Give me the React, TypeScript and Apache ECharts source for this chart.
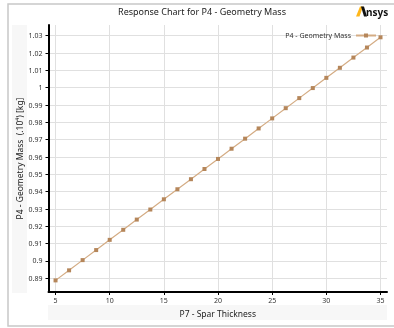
import React, { useEffect, useRef } from "react";
import * as echarts from "echarts";

const spar = [5, 6.25, 7.5, 8.75, 10, 11.25, 12.5, 13.75, 15, 16.25, 17.5, 18.75, 20, 21.25, 22.5, 23.75, 25, 26.25, 27.5, 28.75, 30, 31.25, 32.5, 33.75, 35];
const mass = [0.8888, 0.8946, 0.9005, 0.9063, 0.9122, 0.918, 0.9239, 0.9297, 0.9356, 0.9414, 0.9472, 0.9531, 0.9589, 0.9648, 0.9706, 0.9765, 0.9823, 0.9882, 0.994, 0.9998, 1.0057, 1.0115, 1.0174, 1.0232, 1.0291];
const xTicks = [5, 10, 15, 20, 25, 30, 35];
const yTicks = [0.89, 0.9, 0.91, 0.92, 0.93, 0.94, 0.95, 0.96, 0.97, 0.98, 0.99, 1, 1.01, 1.02, 1.03];

const FONT = "Noto Sans";

export default function App() {
  const ref = useRef<HTMLDivElement>(null);
  useEffect(() => {
    const chart = echarts.init(ref.current!, null, { renderer: "svg" });
    chart.setOption({
      animation: false,
      textStyle: { fontFamily: FONT },
      grid: { left: 48.5, top: 25, right: 7, bottom: 36, containLabel: false },
      graphic: [
        { type: "rect", shape: { x: 8, y: 4, width: 400, height: 322 }, style: { fill: "#fff", stroke: "#c8c8c8", lineWidth: 1.5 }, z: -10 },
        { type: "rect", shape: { x: 12, y: 25, width: 15, height: 268 }, style: { fill: "#f7f7f7" }, z: -5 },
        { type: "rect", shape: { x: 48, y: 305, width: 339, height: 15 }, style: { fill: "#f7f7f7" }, z: -5 },
        { type: "text", x: 202, y: 11, style: { text: "Response Chart for P4 - Geometry Mass", font: `9px ${FONT}`, fill: "#222", align: "center", verticalAlign: "middle" } },
        { type: "polygon", shape: { points: [[356, 16.5], [359.5, 16.5], [363, 6.5], [360, 6.5]] }, style: { fill: "#ffb71b" } },
        { type: "polygon", shape: { points: [[361, 6.5], [364, 6.5], [367, 16.5], [364, 16.5]] }, style: { fill: "#111" } },
        { type: "text", x: 366, y: 12, style: { text: "nsys", font: `bold 10px ${FONT}`, fill: "#111", align: "left", verticalAlign: "middle" } },
      ],
      legend: {
        right: 12,
        top: 27,
        itemWidth: 20,
        itemHeight: 5,
        align: "right",
        itemGap: 4,
        textStyle: { fontSize: 7, color: "#333", fontFamily: FONT },
        data: ["P4 - Geometry Mass"],
      },
      xAxis: {
        type: "value",
        min: 4.35,
        max: 35.6,
        name: "P7 - Spar Thickness",
        nameLocation: "middle",
        nameGap: 17,
        nameMoveOverlap: false,
        nameTextStyle: { fontSize: 8.5, color: "#222", fontFamily: FONT },
        axisLine: { show: true, lineStyle: { color: "#000", width: 2 } },
        axisTick: { show: true, customValues: xTicks, length: 3, lineStyle: { color: "#000" } },
        axisLabel: { customValues: xTicks, fontSize: 7, color: "#333", margin: 5 },
        splitLine: { show: true, lineStyle: { color: "#e0e0e0", width: 1 } },
      },
      yAxis: {
        type: "value",
        min: 0.8821,
        max: 1.0362,
        name: "P4 - Geometry Mass  (.10⁴) [kg]",
        nameLocation: "middle",
        nameGap: 25,
        nameMoveOverlap: false,
        nameRotate: 90,
        nameTextStyle: { fontSize: 8.5, color: "#222", fontFamily: FONT },
        axisLine: { show: true, lineStyle: { color: "#000", width: 2 } },
        axisTick: { show: true, customValues: yTicks, length: 3, lineStyle: { color: "#000" } },
        axisLabel: {
          customValues: yTicks,
          fontSize: 7,
          color: "#333",
          margin: 6,
          formatter: (v: number) => String(parseFloat(v.toFixed(2))),
        },
        splitLine: { show: true, lineStyle: { color: "#e0e0e0", width: 1 } },
      },
      series: [
        {
          name: "P4 - Geometry Mass",
          type: "line",
          data: spar.map((x, i) => [x, mass[i]]),
          symbol: "rect",
          symbolSize: 4,
          itemStyle: { color: "#b5865a" },
          lineStyle: { color: "#d4ac84", width: 1.2 },
        },
      ],
    });
    return () => chart.dispose();
  }, []);
  return <div ref={ref} style={{ position: "fixed", left: 0, top: 0, width: 394, height: 328 }} />;
}
